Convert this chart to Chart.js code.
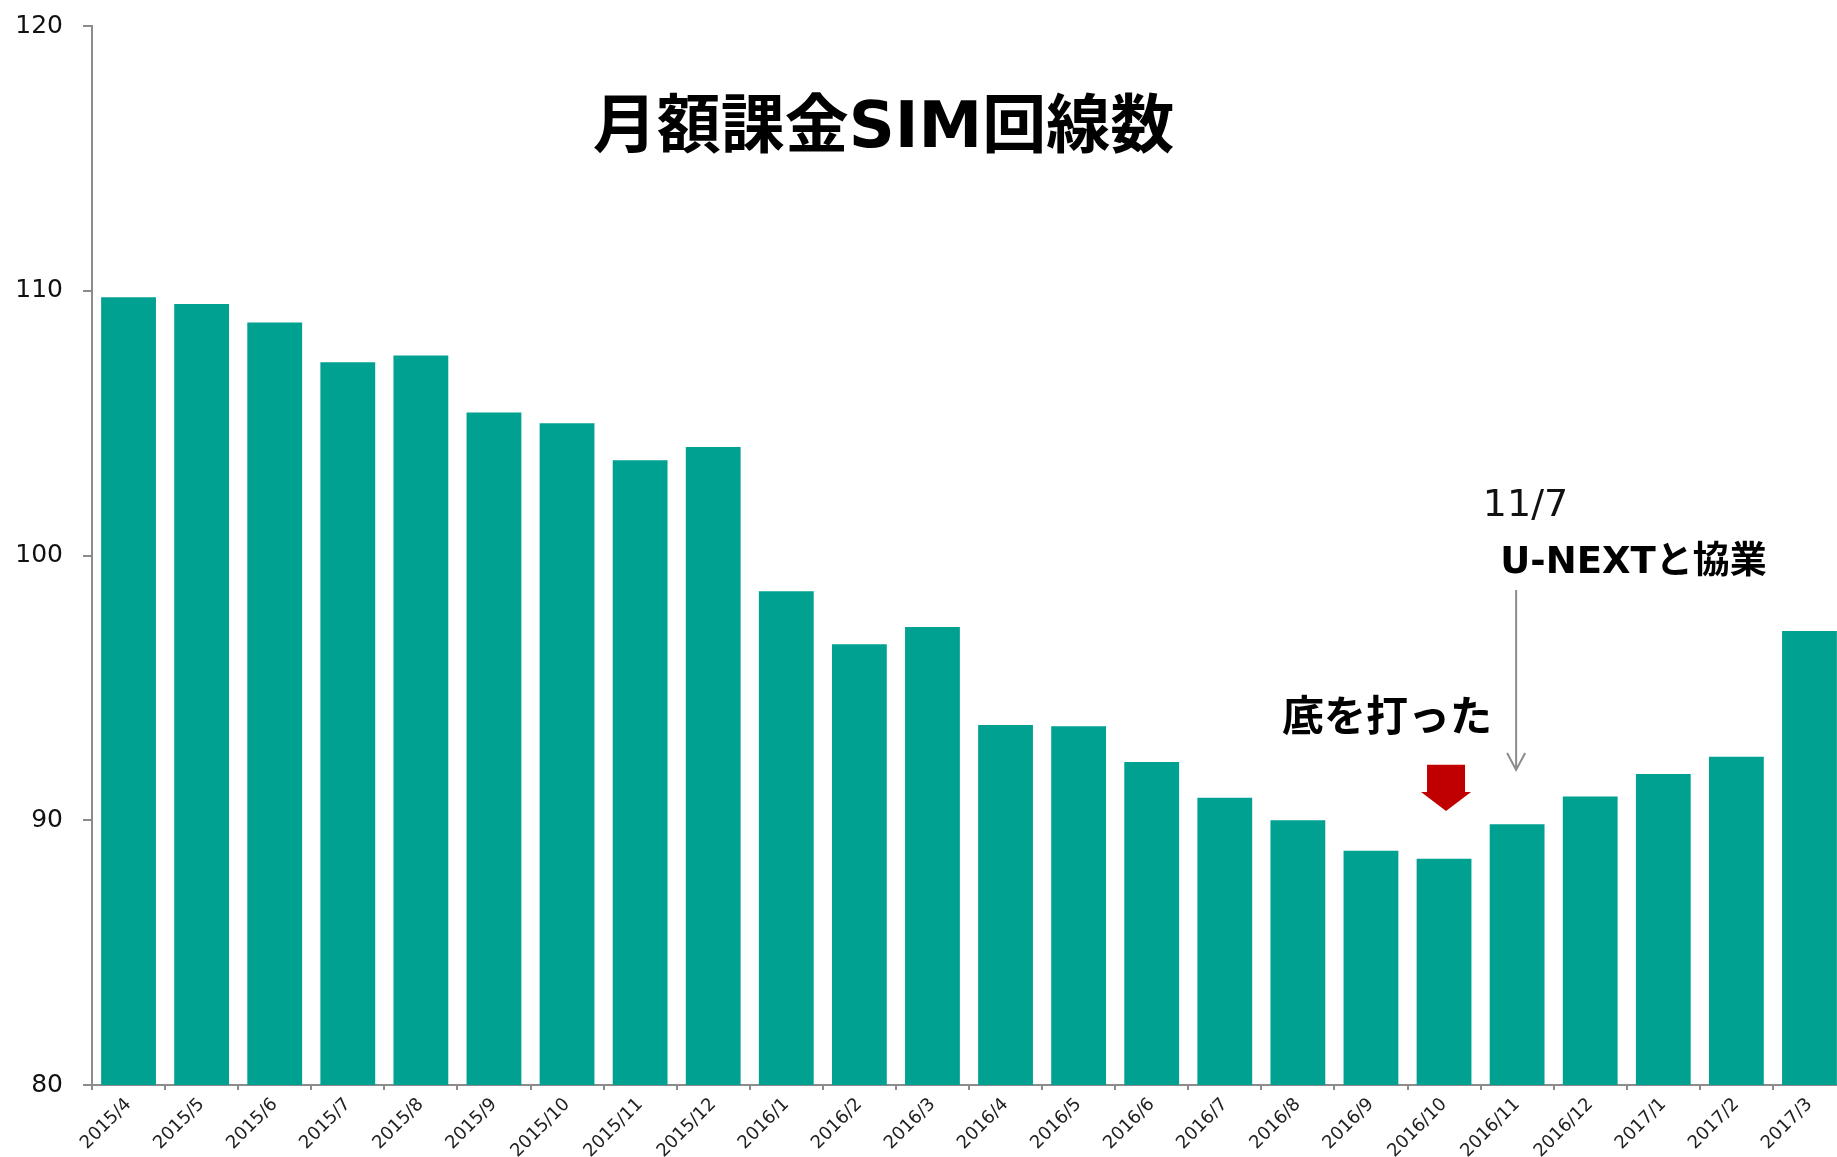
<!DOCTYPE html>
<html>
<head>
<meta charset="utf-8">
<script src="https://cdn.jsdelivr.net/npm/chart.js@4/dist/chart.umd.min.js"></script>
<style>
  html, body { margin: 0; padding: 0; background: #fff; overflow: hidden; }
  #wrap { width: 1837px; height: 1157px; overflow: hidden; }
  #chart { display: block; margin-top: -9px; }
</style>
</head>
<body>
<div id="wrap"><canvas id="chart" width="1846" height="1166"></canvas></div>
<script>
var months = [
  "2015/4", "2015/5", "2015/6", "2015/7", "2015/8", "2015/9", "2015/10", "2015/11",
  "2015/12", "2016/1", "2016/2", "2016/3", "2016/4", "2016/5", "2016/6", "2016/7",
  "2016/8", "2016/9", "2016/10", "2016/11", "2016/12", "2017/1", "2017/2", "2017/3"
];
var simLines = [
  109.75, 109.5, 108.8, 107.3, 107.55, 105.4, 105.0, 103.6,
  104.1, 98.65, 96.65, 97.3, 93.6, 93.55, 92.2, 90.85,
  90.0, 88.85, 88.55, 89.85, 90.9, 91.75, 92.4, 97.15
];
var yTicks = [80, 90, 100, 110, 120];

var chartTitle = "月額課金SIM回線数";
var bottomNote = "底を打った";
var dateNote = "11/7";
var eventNote = "U-NEXTと協業";

var latin = '"DejaVu Sans", "Noto Sans CJK JP", sans-serif';

// title, notes and arrows drawn on top of the bars
var notesPlugin = {
  id: "notes",
  afterDraw: function(chart) {
    var ctx = chart.ctx;
    var xs = chart.scales.x;
    var ys = chart.scales.y;
    var catW = (xs.right - xs.left) / months.length;
    var xAt = function(f) { return xs.left + (f + 0.5) * catW; };

    ctx.save();
    ctx.fillStyle = "#000";
    ctx.textBaseline = "middle";

    ctx.font = "bold 64px " + latin;
    ctx.textAlign = "center";
    ctx.fillText(chartTitle, xAt(10.33), ys.getPixelForValue(116.07));

    ctx.font = "bold 42px " + latin;
    ctx.fillText(bottomNote, xAt(17.22), ys.getPixelForValue(93.77));

    ctx.textAlign = "left";
    ctx.fillStyle = "#111";
    ctx.font = "38px " + latin;
    ctx.fillText(dateNote, xAt(18.53), ys.getPixelForValue(101.85));
    ctx.fillStyle = "#000";
    ctx.font = "bold 37px " + latin;
    ctx.fillText(eventNote, xAt(18.77), ys.getPixelForValue(99.7));

    // grey pointer to 2016/11
    var gx = xs.getPixelForValue(19) - 1;
    var gTop = ys.getPixelForValue(98.7);
    var gTip = ys.getPixelForValue(91.9);
    ctx.strokeStyle = "#8c8c8c";
    ctx.lineWidth = 2;
    ctx.beginPath();
    ctx.moveTo(gx, gTop);
    ctx.lineTo(gx, gTip);
    ctx.moveTo(gx - 9, gTip - 17);
    ctx.lineTo(gx, gTip);
    ctx.lineTo(gx + 9, gTip - 17);
    ctx.stroke();

    // red block arrow above the lowest bar
    var rx = xs.getPixelForValue(18) + 2;
    var rTop = ys.getPixelForValue(92.1);
    var rTip = ys.getPixelForValue(90.35);
    var headY = rTip - 19;
    ctx.fillStyle = "#c00000";
    ctx.beginPath();
    ctx.moveTo(rx - 19, rTop);
    ctx.lineTo(rx + 19, rTop);
    ctx.lineTo(rx + 19, headY);
    ctx.lineTo(rx + 25, headY);
    ctx.lineTo(rx, rTip);
    ctx.lineTo(rx - 25, headY);
    ctx.lineTo(rx - 19, headY);
    ctx.closePath();
    ctx.fill();
    ctx.restore();
  }
};

var ctx = document.getElementById("chart");
var myChart = new Chart(ctx, {
  type: "bar",
  data: {
    labels: months,
    datasets: [
      {
        label: chartTitle,
        data: simLines,
        backgroundColor: "#00a191",
        borderWidth: 0,
        barPercentage: 0.75,
        categoryPercentage: 1.0
      }
    ]
  },
  options: {
    responsive: false,
    animation: false,
    layout: { padding: { top: 14, right: 0, bottom: 0, left: 0 } },
    plugins: {
      legend: { display: false },
      tooltip: { enabled: false },
      title: { display: false }
    },
    scales: {
      x: {
        grid: {
          drawOnChartArea: false,
          drawTicks: true,
          tickLength: 5,
          color: "#8c8c8c",
          lineWidth: 2
        },
        border: { color: "#8c8c8c", width: 2 },
        ticks: {
          color: "#222",
          font: { family: latin, size: 18 },
          minRotation: 45,
          maxRotation: 45,
          autoSkip: false,
          padding: 4
        },
        afterFit: function(scale) { scale.height = 72; }
      },
      y: {
        min: 80,
        max: 120,
        afterBuildTicks: function(scale) {
          scale.ticks = yTicks.map(function(v) { return { value: v }; });
        },
        grid: {
          drawOnChartArea: false,
          drawTicks: true,
          tickLength: 9,
          color: "#8c8c8c",
          lineWidth: 2
        },
        border: { color: "#8c8c8c", width: 2 },
        ticks: {
          color: "#111",
          font: { family: latin, size: 25 },
          padding: 20
        },
        afterFit: function(scale) { scale.width = 92; }
      }
    }
  },
  plugins: [notesPlugin]
});
</script>
</body>
</html>
